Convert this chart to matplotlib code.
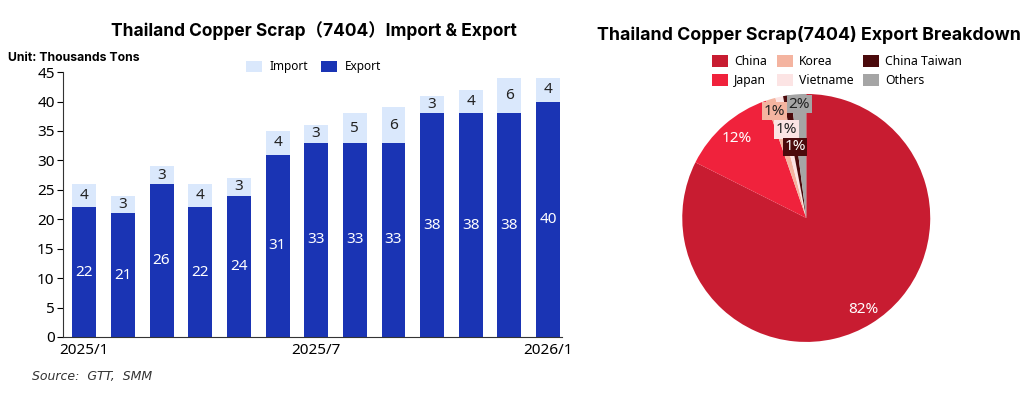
import matplotlib
matplotlib.use("Agg")
import matplotlib.pyplot as plt
import numpy as np

plt.rcParams['font.family'] = ['Noto Sans', 'Noto Sans CJK SC', 'DejaVu Sans']
TITLE_FONT = ['Inter', 'Noto Sans CJK SC', 'DejaVu Sans']

# Données barres (milliers de tonnes)
months = ["2025/1", "2025/2", "2025/3", "2025/4", "2025/5", "2025/6", "2025/7",
          "2025/8", "2025/9", "2025/10", "2025/11", "2025/12", "2026/1"]
export_vals = [22, 21, 26, 22, 24, 31, 33, 33, 33, 38, 38, 38, 40]
import_vals = [4, 3, 3, 4, 3, 4, 3, 5, 6, 3, 4, 6, 4]
shown_ticks = ["2025/1", "2025/7", "2026/1"]

# Données camembert (%)
countries = ["China", "Japan", "Korea", "Vietname", "China Taiwan", "Others"]
shares = [82.4, 12.3, 1.3, 1.0, 1.0, 2.0]

EXPORT_C = "#1a34b4"
IMPORT_C = "#dae8fc"
pie_colors = ["#c81c31", "#f0223c", "#f4b4a0", "#fce4e4", "#4b0a0c", "#a5a5a5"]

fig = plt.figure(figsize=(10.24, 3.93), dpi=100)

# ---- graphique en barres ----
ax = fig.add_axes([0.0615, 0.1425, 0.487, 0.674])
x = np.arange(len(months))
ax.bar(x, export_vals, width=0.62, color=EXPORT_C, label="Export")
ax.bar(x, import_vals, width=0.62, bottom=export_vals, color=IMPORT_C, label="Import")

for i in range(len(months)):
    ax.text(x[i], export_vals[i] / 2, str(export_vals[i]), ha="center", va="center",
            color="white", fontsize=11)
    ax.text(x[i], export_vals[i] + import_vals[i] / 2, str(import_vals[i]), ha="center",
            va="center", color="#222222", fontsize=11)

ax.set_ylim(0, 45)
ax.set_yticks(range(0, 46, 5))
ax.set_xlim(-0.55, 12.35)
ax.set_xticks([months.index(m) for m in shown_ticks])
ax.set_xticklabels(shown_ticks)
ax.tick_params(axis="x", length=0, labelsize=11, pad=4)
ax.tick_params(axis="y", length=4, labelsize=11, pad=2, direction="out")
ax.spines["top"].set_visible(False)
ax.spines["right"].set_visible(False)
ax.spines["left"].set_color("#333333")
ax.spines["bottom"].set_color("#333333")

h, l = ax.get_legend_handles_labels()
ax.legend(h[::-1], l[::-1], loc="center", bbox_to_anchor=(0.502, 1.02), ncol=2,
          frameon=False, fontsize=8.5, handlelength=1.4, handleheight=1.1,
          columnspacing=1.1, handletextpad=0.6)

fig.text(0.307, 0.922, "Thailand Copper Scrap（7404）Import & Export", ha="center",
         va="center", fontsize=12.5, fontweight="bold", family=TITLE_FONT)
fig.text(0.008, 0.853, "Unit: Thousands Tons", ha="left", va="center",
         fontsize=8.8, fontweight="bold", family=TITLE_FONT)
fig.text(0.031, 0.043, "Source:  GTT,  SMM", ha="left", va="center",
         fontsize=9, style="italic", color="#333333", family="DejaVu Sans")

# ---- camembert ----
ax2 = fig.add_axes([0.636, 0.0509, 0.3027, 0.789])
wedges, _ = ax2.pie(shares, colors=pie_colors, startangle=90, counterclock=False,
                    wedgeprops=dict(linewidth=0))
ax2.set_xlim(-1.25, 1.25)
ax2.set_ylim(-1.25, 1.25)
ax2.set_aspect("equal")

label_r = [0.87, 0.85, 0.9, 0.73, 0.58, 0.92]
label_txt = ["82%", "12%", "1%", "1%", "1%", "2%"]
label_col = ["white", "white", "#222222", "#222222", "white", "#222222"]
boxed = [False, False, True, True, True, True]
for w, r, t, c, bx, fc in zip(wedges, label_r, label_txt, label_col, boxed, pie_colors):
    ang = np.deg2rad((w.theta1 + w.theta2) / 2)
    kw = {}
    if bx:
        kw["bbox"] = dict(facecolor=fc, edgecolor="none", pad=1.2)
    ax2.text(r * np.cos(ang), r * np.sin(ang), t, ha="center", va="center",
             color=c, fontsize=11, **kw)

ax2.legend(wedges, countries, loc="center", bbox_to_anchor=(0.6, 0.974), ncol=3,
           frameon=False, fontsize=8.8, handlelength=1.3, handleheight=1.1,
           columnspacing=0.8, handletextpad=0.5, labelspacing=0.45)

fig.text(0.79, 0.912, "Thailand Copper Scrap(7404) Export Breakdown", ha="center",
         va="center", fontsize=12.8, fontweight="bold", family=TITLE_FONT)

fig.savefig("out.png", dpi=100)
